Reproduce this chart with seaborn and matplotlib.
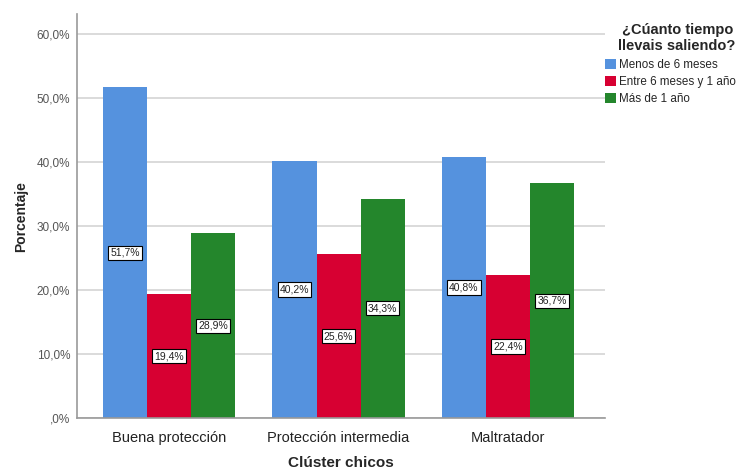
import pandas as pd
import matplotlib
matplotlib.use("Agg")
import matplotlib.pyplot as plt
import seaborn as sns

clusters = ["Buena protección", "Protección intermedia", "Maltratador"]
groups = ["Menos de 6 meses", "Entre 6 meses y 1 año", "Más de 1 año"]
menos_6 = [51.7, 40.2, 40.8]
entre_6_12 = [19.4, 25.6, 22.4]
mas_1 = [28.9, 34.3, 36.7]
y_ticks = [0, 10, 20, 30, 40, 50, 60]
y_tick_labels = [",0%", "10,0%", "20,0%", "30,0%", "40,0%", "50,0%", "60,0%"]
colors = ["#5592DE", "#D70032", "#24862C"]

rows = []
for g, vals in zip(groups, [menos_6, entre_6_12, mas_1]):
    for c, v in zip(clusters, vals):
        rows.append({"Clúster chicos": c, "Tiempo": g, "Porcentaje": v})
df = pd.DataFrame(rows)

sns.set_style("white")
plt.rcParams["font.family"] = ["Liberation Sans", "DejaVu Sans"]

fig = plt.figure(figsize=(7.48, 4.72), dpi=100)
ax = fig.add_axes([0.103, 0.114, 0.706, 0.856])

sns.barplot(data=df, x="Clúster chicos", y="Porcentaje", hue="Tiempo",
            hue_order=groups, order=clusters, palette=colors,
            width=0.78, saturation=1, linewidth=0, ax=ax, errorbar=None,
            zorder=2)

for cont in ax.containers:
    labels = [f"{b.get_height():.1f}%".replace(".", ",") for b in cont]
    ax.bar_label(cont, labels=labels, label_type="center", fontsize=7.5,
                 color="#222222",
                 bbox=dict(boxstyle="square,pad=0.2", fc="white", ec="black", lw=0.8))

ax.set_ylim(0, 63.1)
ax.set_xlim(-0.544, 2.574)
ax.set_yticks(y_ticks)
ax.set_yticklabels(y_tick_labels, fontsize=8.5, color="#555555")
ax.tick_params(axis="x", labelsize=10.5, colors="#222222", length=0, pad=9)
ax.tick_params(axis="y", length=0, pad=5)
ax.yaxis.grid(True, color="#d4d4d4", lw=1.2, zorder=0)
ax.set_axisbelow(True)

ax.set_xlabel("Clúster chicos", fontsize=11, fontweight="bold", labelpad=8)
ax.set_ylabel("Porcentaje", fontsize=10, fontweight="bold", labelpad=6)

for side in ["top", "right"]:
    ax.spines[side].set_visible(False)
for side in ["left", "bottom"]:
    ax.spines[side].set_color("#999999")
    ax.spines[side].set_linewidth(1.2)

leg = ax.legend(title="¿Cúanto tiempo\nllevais saliendo?", loc="upper left",
                bbox_to_anchor=(605 / 748, 1 - 23 / 472),
                bbox_transform=fig.transFigure, frameon=False, fontsize=8.4,
                handlelength=0.9, handleheight=0.9, handletextpad=0.3,
                labelspacing=0.45, borderaxespad=0, borderpad=0)
leg.get_title().set_fontweight("bold")
leg.get_title().set_fontsize(10.5)
leg.get_title().set_multialignment("center")
leg._legend_box.align = "right"
leg._legend_box.sep = 4

fig.savefig("out.png", dpi=100)
